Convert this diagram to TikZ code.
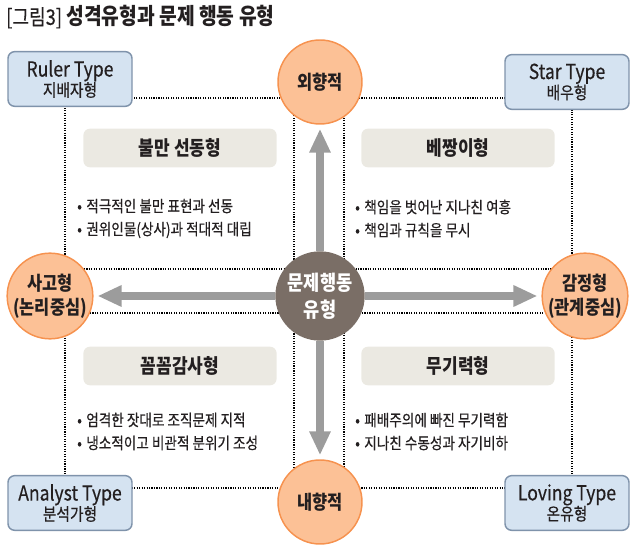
\documentclass[tikz,border=0pt]{standalone}
\usepackage{fontspec}
\setmainfont[FakeStretch=0.85, UprightFeatures={FakeBold=0.4}]{Noto Sans CJK KR}
\usepackage{tikz}
\usetikzlibrary{arrows.meta}
\definecolor{boxblue}{HTML}{D5E3F1}
\definecolor{boxline}{HTML}{7F93AB}
\definecolor{orfill}{HTML}{FCC196}
\definecolor{orline}{HTML}{F6924F}
\definecolor{corefill}{HTML}{7A6E66}
\definecolor{tagfill}{HTML}{EBE9E2}
\definecolor{arrgray}{HTML}{9C9C9C}
\definecolor{ink}{HTML}{231F20}

\begin{document}
\begin{tikzpicture}[x=0.75pt, y=-0.75pt,
  typ/.style={rectangle, rounded corners=5pt, draw=boxline, line width=1.1pt, fill=boxblue, minimum width=93pt, minimum height=41pt, align=center, text=ink, inner sep=0pt, font=\fontsize{13}{15}\selectfont},
  pole/.style={circle, draw=orline, line width=1.1pt, fill=orfill, minimum size=63pt, inner sep=0pt, align=center, text=ink, font=\bfseries\fontsize{14.5}{18}\selectfont},
  core/.style={circle, fill=corefill, minimum size=67pt, inner sep=0pt, align=center, text=white, font=\bfseries\fontsize{15.5}{20}\selectfont},
  tag/.style={rectangle, rounded corners=5pt, fill=tagfill, minimum width=145pt, minimum height=29pt, text=ink, font=\bfseries\fontsize{15}{16}\selectfont},
  list/.style={anchor=west, align=left, text=ink, inner sep=0pt, font=\fontsize{12}{17.25}\selectfont},
  grid/.style={densely dotted, line width=0.85pt, black},
  arr/.style={-{Triangle[length=18pt,width=15pt]}, line width=5.5pt, draw=arrgray, shorten >=3pt},
]
\useasboundingbox (0,0) rectangle (640,548);

\draw[grid] (65,98) rectangle (294,269);
\draw[grid] (344,98) rectangle (572,269);
\draw[grid] (65,313) rectangle (294,488);
\draw[grid] (344,313) rectangle (572,488);

\node[anchor=west, inner sep=0pt, text=ink, font=\bfseries\fontsize{17}{18}\selectfont] (title) at (6,17) {{\mdseries\fontsize{16}{18}\selectfont [그림3]} 성격유형과 문제 행동 유형};

\node[typ] (ruler)   at (70,79)   {{\fontsize{15.5}{15}\selectfont Ruler Type}\\지배자형};
\node[typ] (star)    at (567,82)  {{\fontsize{15.5}{15}\selectfont Star Type}\\배우형};
\node[typ] (analyst) at (70,503)  {{\fontsize{15.5}{15}\selectfont Analyst Type}\\분석가형};
\node[typ] (loving)  at (567,503) {{\fontsize{15.5}{15}\selectfont Loving Type}\\온유형};

\node[pole] (extro) at (320,82)  {외향적};
\node[pole] (intro) at (320,502) {내향적};
\node[pole] (think) at (50,296)  {사고형\\(논리중심)};
\node[pole] (feel)  at (585,296) {감정형\\(관계중심)};
\node[core] (core)  at (320,296) {문제행동\\유형};

\node[tag] (agitate) at (180,148) {불만 선동형};
\node[tag] (idler)   at (458,148) {베짱이형};
\node[tag] (audit)   at (180,366) {꼼꼼감사형};
\node[tag] (apathy)  at (458,366) {무기력형};

\node[list] (agitatelist) at (77,218.5) {•\;적극적인 불만 표현과 선동\\•\;권위인물(상사)과 적대적 대립};
\node[list] (idlerlist)   at (355,218.5) {•\;책임을 벗어난 지나친 여흥\\•\;책임과 규칙을 무시};
\node[list] (auditlist)   at (77,431.5) {•\;엄격한 잣대로 조직문제 지적\\•\;냉소적이고 비관적 분위기 조성};
\node[list] (apathylist)  at (355,431.5) {•\;패배주의에 빠진 무기력함\\•\;지나친 수동성과 자기비하};

\draw[arr] (core) -- (extro);
\draw[arr] (core) -- (intro);
\draw[arr] (core) -- (think);
\draw[arr] (core) -- (feel);
\end{tikzpicture}
\end{document}
